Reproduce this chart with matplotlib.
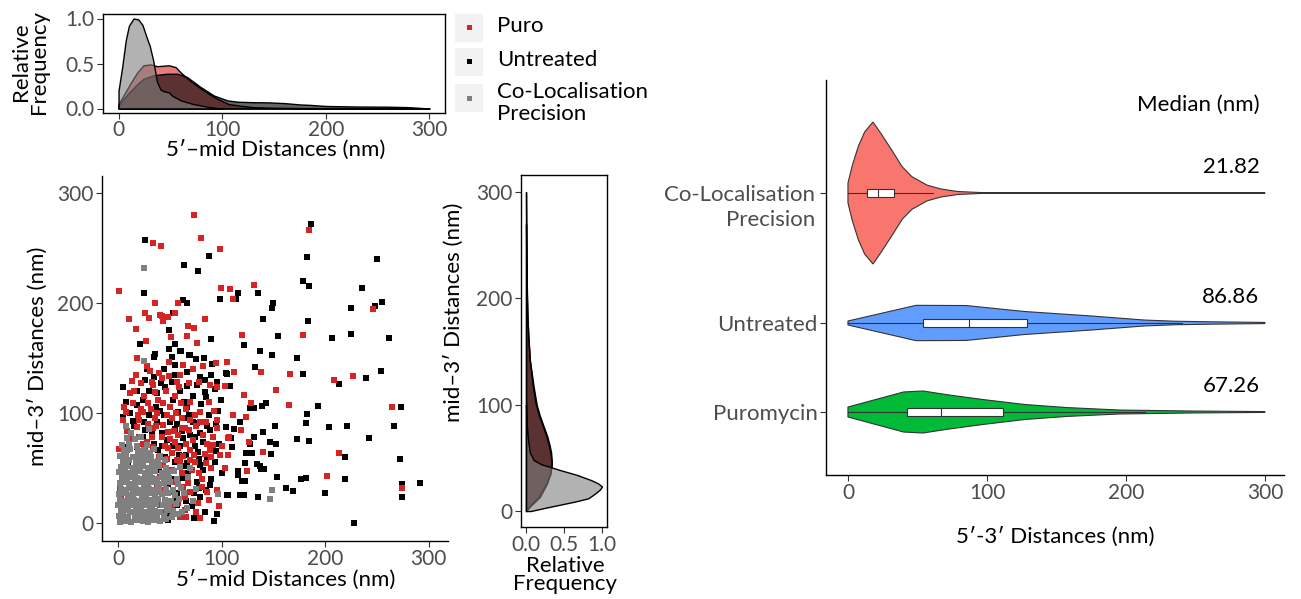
import numpy as np
import matplotlib
matplotlib.use('Agg')
import matplotlib.pyplot as plt
import matplotlib.transforms as mtransforms
from matplotlib.colors import to_rgba
from matplotlib.patches import Rectangle

plt.rcParams['font.family'] = ['Lato', 'DejaVu Sans']

# ---------------- data ----------------
# scatter: (5'-mid, mid-3') distances in nm
puro_pts = [
    (73.7, 280), (34.1, 254.8), (41.2, 252), (80.2, 258.8), (98.9, 249), (1.3, 211.2), (35.4, 200.3),
    (57.7, 200.3), (99.5, 213.6), (107.9, 213), (110.8, 204), (131, 216), (10.9, 185.2), (25.8, 191.2),
    (29.6, 186.4), (40.6, 188.8), (42.5, 188.2), (43.8, 184), (48.3, 187), (55.4, 191.2), (17.4, 176),
    (67.6, 179.4), (73.4, 177.3), (84.4, 185.7), (50.9, 168.8), (67, 170), (27, 165.7), (76.6, 164),
    (119.5, 170.6), (184.2, 266), (246.4, 194.8), (178.5, 170.9), (105, 146.6), (111.8, 137),
    (138.5, 137), (166.2, 135.7), (208.7, 129.7), (226.7, 133.4), (103.7, 124.8), (121.4, 116.4),
    (152.7, 121.2), (128.2, 108.8), (164.9, 107.3), (265, 105.7), (110.8, 97.9), (123.3, 96.1),
    (118.8, 84.5), (107.2, 78.2), (126.3, 73.6), (139.8, 64.5), (106.6, 62.1), (213.2, 63.4),
    (103.4, 50), (124.6, 47.5), (202.2, 42.7), (274, 31.8), (27.6, 142.7), (49.3, 146.7),
    (63.1, 143.6), (82.4, 142.7), (94.6, 145.6), (17.4, 134.5), (39.9, 136.6), (48.9, 133.6),
    (78.3, 127.9), (13.5, 129.4), (22, 126.9), (34.1, 125.5), (58.6, 123.3), (68.9, 127.6),
    (35.7, 119.4), (95.9, 123.3), (5.8, 105.8), (14.8, 108.8), (7.7, 101.2), (28.6, 108.8),
    (43.8, 109.4), (50.2, 105.8), (60.9, 109.4), (79.2, 101.2), (24.5, 101.2), (31.6, 103.3),
    (51.8, 95.2), (4.5, 93.6), (20.6, 93.6), (29.3, 90), (43.8, 89.1), (69.6, 93.6), (85, 92.1),
    (95.3, 93.6), (106.6, 77.3), (18.7, 86.9), (34.1, 86.1), (48.6, 83), (61.5, 86.1), (68.9, 84.5),
    (95.9, 86.1), (14.8, 76.1), (27.6, 74), (42.2, 77.9), (55.1, 74), (72.8, 75.5), (92, 71),
    (0.6, 66.9), (8.4, 66.4), (21.3, 64.8), (34.1, 68.8), (48.6, 67.9), (51.8, 63.3), (63.1, 60.9),
    (69.6, 66.4), (88.9, 66.4), (98.5, 61.8), (27.6, 57.3), (43.8, 52.7), (57.3, 57.3), (74.4, 55.8),
    (85, 54.2), (40.6, 42.1), (53.5, 37.6), (67.9, 36), (80.8, 33), (95.3, 30), (45.7, 30), (65, 24),
    (87.6, 21), (51.8, 15), (65, 11.8), (60.2, 5.8), (40.6, 16.4), (79.5, 4.6), (65.6, 5.5),
    (1.6, 30.5), (3, 25), (38, 100), (55, 115), (46, 120), (62, 95), (75, 88), (33, 78), (58, 80),
    (40, 60), (66, 72), (52, 48), (60, 55), (73, 62), (30, 50), (45, 70), (82, 80), (56, 100),
    (70, 110), (25, 115), (88, 110), (36, 95), (12, 118), (19, 98), (9, 84), (26, 66), (44, 44),
    (71, 48), (84, 63), (63, 33), (77, 18), (90, 50), (11, 72), (57, 128), (31, 138), (74, 98),
    (20, 78), (39, 112), (50, 76), (65, 86), (81, 40), (92, 78), (15, 120), (22, 104), (37, 88),
    (47, 98), (54, 84), (66, 104), (79, 92), (86, 72), (93, 102), (58, 68), (70, 57), (47, 58),
    (31, 60), (24, 72), (62, 45), (78, 45), (90, 60), (100, 70), (33, 128), (42, 132), (60, 135),
    (72, 140), (18, 150), (89, 125), (53, 28), (70, 28), (86, 28), (58, 18), (45, 10), (75, 10),
    (98, 15), (38, 35), (30, 40), (8, 58), (16, 48),
]
untreated_pts = [
    (26.4, 257.6), (88, 243), (64.1, 235), (77, 228.8), (24.8, 208.8), (62.5, 202.7), (66.4, 199.7),
    (98.2, 203.4), (113.7, 204), (115.6, 208.8), (135, 209.4), (139.8, 185.2), (52.8, 190.6),
    (49, 175.5), (21.3, 162.7), (55.4, 162.7), (89.9, 167), (122, 162), (137.5, 156.6), (49, 158.5),
    (60.6, 156.6), (36, 153.3), (35, 150.6), (52.2, 150.6), (69.6, 152.7), (83.1, 150.3),
    (75.4, 148.8), (186.2, 271.8), (182.3, 241.5), (250.2, 240.3), (179, 220.3), (184.2, 215.5),
    (236, 213.6), (149.5, 199.7), (149.1, 195.7), (225.4, 195.7), (254.7, 200.9), (248.3, 197.3),
    (183.6, 184), (154.6, 170.3), (206.8, 167.9), (225.4, 172.1), (261.8, 168.5), (149.1, 152.5),
    (173.2, 150.3), (132.4, 142.1), (105, 135.2), (179, 135.7), (213.8, 126.1), (239.9, 131.5),
    (254.1, 138.2), (108.5, 124.3), (127.2, 104.8), (131.7, 104.8), (139.1, 106.6), (143, 109.1),
    (193.2, 106.1), (182.9, 99.1), (273.4, 105.7), (118.2, 91.8), (181.6, 90.6), (151.4, 88.2),
    (203.5, 87), (220.9, 88.5), (266.3, 88.2), (104.3, 87), (112.4, 85.2), (140.1, 82.7), (108.9, 77),
    (131.7, 77.9), (127.8, 71.8), (147.2, 73.6), (152.7, 71.5), (173.2, 76.1), (184.8, 74.8),
    (242.5, 77.3), (109.9, 69.4), (147.5, 62.7), (124, 63.4), (129.2, 63.9), (219.3, 60.3),
    (272.2, 57.9), (122.7, 54.3), (134.3, 53.6), (136.9, 51.8), (138.2, 48.8), (140.8, 48.8),
    (115.6, 47.5), (115.6, 43.4), (153.3, 41.5), (177.1, 39.7), (181.6, 40.9), (219.3, 40.3),
    (119.5, 38.5), (122.7, 38.5), (291.5, 36.6), (274.7, 35.5), (162.3, 31.8), (168.8, 29.4),
    (274, 23.9), (199.7, 27.5), (106, 25.2), (118.2, 25.2), (121.4, 25.2), (135.6, 23.9), (228, 0.3),
    (59.9, 156.4), (68.9, 152.7), (55.1, 143.6), (91.1, 145), (104.3, 136.6), (34.8, 133),
    (55.4, 134.5), (67, 137.6), (79.2, 133), (5.2, 123.9), (41.2, 127.6), (45, 123.3), (67, 124.5),
    (60, 120.3), (83.9, 119.4), (93.6, 121.5), (23.8, 111.8), (18.7, 107.3), (36.7, 105.8),
    (53.5, 111.8), (67, 105.8), (85, 114.8), (96.9, 102.1), (40.6, 102.1), (57.7, 101.2), (5.2, 96.7),
    (14.2, 93), (37.4, 92.1), (64.7, 95.2), (76.7, 91.2), (26.1, 84.5), (55.1, 85.2), (79.2, 81.5),
    (88.9, 84.5), (12.2, 80), (24.5, 77.9), (47, 75.5), (63.1, 77), (74.4, 77.9), (82.4, 74),
    (97.8, 71.9), (4.5, 69.4), (18, 69.4), (38.9, 66.4), (58.3, 67.9), (77.6, 64.8), (85.6, 60.3),
    (37.4, 55.8), (67, 54.2), (79.2, 52.7), (93.6, 55.8), (47, 45.2), (61.5, 40.6), (75.9, 37.6),
    (88.9, 34.5), (105.5, 25.5), (57, 27), (73.1, 27), (79.5, 24), (95.6, 8.3), (57.3, 16.4),
    (49.6, 8.3), (92.4, 1.4), (73.7, 4.6), (48, 2.4), (30, 120), (44, 140), (72, 115), (88, 98),
    (50, 92), (62, 84), (30, 98), (45, 60), (55, 55), (68, 45), (82, 48), (90, 40), (35, 72), (20, 58),
    (10, 52), (60, 70), (72, 92), (84, 130), (96, 128), (18, 120), (8, 110), (42, 82), (53, 70),
    (66, 62), (78, 58), (86, 88), (15, 88), (28, 140), (64, 110), (99, 112), (48, 35), (71, 15),
    (84, 10), (100, 45), (55, 20), (26, 130), (38, 118), (52, 128), (76, 125), (90, 135), (12, 100),
    (25, 92), (44, 98), (69, 98), (80, 108), (95, 90), (33, 82), (57, 90), (70, 80), (89, 70),
    (42, 70), (64, 52), (74, 70), (95, 65), (52, 40), (85, 30), (66, 20), (78, 32), (40, 48), (59, 62),
]
coloc_pts = [
    (2, 1), (8, 2), (13, 1), (18, 3), (24, 2), (29, 1), (35, 3), (41, 2), (46, 4),
    (1, 6), (5, 7), (10, 5), (16, 6), (21, 7), (27, 6), (32, 5), (38, 7), (44, 6), (52, 5), (58, 8),
    (3, 11), (7, 12), (12, 10), (17, 11), (22, 12), (26, 10), (31, 12), (36, 11), (41, 10), (47, 12),
    (53, 11), (62, 10), (0, 16), (4, 15), (9, 17), (14, 16), (19, 15), (24, 17), (28, 16), (33, 15),
    (37, 17), (43, 16), (49, 15), (56, 17), (67, 14), (2, 21), (6, 20), (11, 22), (15, 21), (20, 20),
    (25, 22), (30, 21), (34, 20), (39, 22), (45, 21), (51, 20), (59, 22), (72, 20), (1, 26), (5, 27),
    (10, 25), (14, 26), (18, 27), (23, 25), (27, 26), (32, 27), (36, 25), (42, 26), (48, 27), (55, 25),
    (64, 27), (3, 31), (8, 30), (12, 32), (17, 31), (21, 30), (26, 32), (30, 31), (35, 30), (40, 32),
    (46, 31), (53, 30), (61, 32), (75, 31), (2, 36), (6, 37), (11, 35), (16, 36), (20, 37), (25, 35),
    (29, 36), (34, 37), (39, 35), (44, 36), (50, 37), (58, 35), (4, 41), (9, 40), (13, 42), (18, 41),
    (23, 40), (28, 42), (33, 41), (38, 40), (43, 42), (49, 41), (57, 40), (68, 42), (1, 46), (7, 47),
    (12, 45), (16, 46), (21, 47), (26, 45), (31, 46), (36, 47), (42, 45), (48, 46), (54, 47), (3, 51),
    (9, 52), (14, 50), (19, 51), (24, 52), (29, 50), (34, 51), (40, 52), (46, 50), (60, 51), (5, 56),
    (11, 57), (17, 55), (22, 56), (27, 57), (33, 55), (39, 56), (45, 57), (2, 61), (8, 62), (14, 60),
    (20, 61), (26, 62), (32, 60), (41, 61), (6, 66), (12, 67), (19, 65), (25, 66), (35, 67), (4, 71),
    (11, 72), (18, 70), (28, 71), (9, 77), (16, 76), (22, 78), (25, 232), (25, 147), (8, 88),
    (97, 26.5), (147, 22), (149, 29.6), (70, 50), (30, 85), (13, 82), (6, 3), (19, 9), (33, 8),
    (10, 14), (23, 19), (38, 28), (15, 33), (28, 39), (7, 43), (20, 54), (31, 64), (47, 38),
]

# marginal densities (relative frequency)
top_x_puro = [0, 5, 12, 18, 24, 31, 37, 43, 48.5, 55, 60, 69, 82, 95, 106, 118, 130, 150, 180, 220, 260, 300]
top_y_puro = [0.05, 0.15, 0.29, 0.40, 0.48, 0.49, 0.47, 0.475, 0.48, 0.46, 0.40, 0.31, 0.20, 0.11,
              0.05, 0.03, 0.015, 0.008, 0.005, 0.004, 0.003, 0.0]
top_x_unt = [0, 5, 12, 18, 24, 34, 47, 57, 66, 79, 92, 105, 115, 130, 145, 160, 175, 185, 200, 230, 260, 280, 300]
top_y_unt = [0.035, 0.11, 0.20, 0.27, 0.33, 0.37, 0.386, 0.386, 0.35, 0.24, 0.144, 0.09, 0.075, 0.07,
             0.068, 0.06, 0.045, 0.04, 0.028, 0.022, 0.02, 0.015, 0.0]
top_x_coloc = [0, 3.5, 7, 10, 14.5, 19, 23, 28, 30, 33.5, 37, 40.5, 44, 48.5, 52, 60, 72, 88, 100]
top_y_coloc = [0.20, 0.46, 0.76, 0.92, 1.00, 0.99, 0.93, 0.76, 0.70, 0.53, 0.30, 0.21, 0.19, 0.18,
               0.14, 0.09, 0.05, 0.015, 0.0]

side_y_puro = [0, 5, 13, 25, 35, 45, 55, 62, 70, 80, 90, 100, 117, 142, 165, 180, 205, 236, 270]
side_f_puro = [0.0, 0.06, 0.18, 0.27, 0.32, 0.34, 0.33, 0.31, 0.28, 0.23, 0.18, 0.14, 0.10, 0.05,
               0.03, 0.02, 0.01, 0.004, 0.0]
side_y_unt = [0, 5, 13, 25, 35, 45, 55, 62, 70, 80, 90, 100, 117, 142, 165, 180, 205, 236, 270, 300]
side_f_unt = [0.0, 0.05, 0.16, 0.26, 0.32, 0.34, 0.32, 0.30, 0.27, 0.22, 0.17, 0.13, 0.09, 0.05,
              0.03, 0.02, 0.012, 0.006, 0.003, 0.0]
side_y_coloc = [0, 3, 6, 9, 12, 16, 20, 23, 26, 29, 34, 38.5, 41, 44, 48, 55, 65, 80, 100]
side_f_coloc = [0.06, 0.25, 0.45, 0.65, 0.82, 0.90, 0.97, 1.0, 0.95, 0.86, 0.67, 0.45, 0.34, 0.20,
                0.10, 0.05, 0.03, 0.01, 0.0]

# violins of 5'-3' distances: half-width relative to the widest violin
violin_groups = ['Co-Localisation\nPrecision', 'Untreated', 'Puromycin']
coloc_v = [0, 0, 3, 7.5, 12, 18, 24, 31, 39, 46, 57, 67, 79, 95, 110, 300]
coloc_w = [0, 0.14, 0.38, 0.66, 0.86, 1.0, 0.83, 0.62, 0.37, 0.23, 0.11, 0.056, 0.021, 0.007, 0.003, 0.003]
unt_v = [0, 0, 49, 85, 127, 175, 213, 235, 260, 300]
unt_w = [0, 0.028, 0.249, 0.246, 0.162, 0.099, 0.042, 0.025, 0.017, 0.008]
puro_v = [0, 0, 40, 54, 73, 97, 127, 157, 195, 246, 300]
puro_w = [0, 0.07, 0.282, 0.296, 0.239, 0.176, 0.106, 0.063, 0.028, 0.014, 0.006]
box_q1 = [13.4, 54.3, 42.7]
box_med = [21.82, 86.86, 67.26]
box_q3 = [32.8, 128.7, 111.3]
whisk_lo = [0, 0, 0]
whisk_hi = [61, 240, 214]

# ---------------- style ----------------
RED = '#D42424'
BLACK = '#000000'
GREY = '#808080'
TICK = '#4D4D4D'
violin_cols = ['#F8766D', '#619CFF', '#00BA38']
FS = 16
TFS = 15

W, H = 1301, 599
fig = plt.figure(figsize=(W / 100, H / 100), dpi=100)
PX = mtransforms.Affine2D().scale(1 / W, -1 / H).translate(0, 1) + fig.transFigure


def axes_px(left, top, right, bottom):
    return fig.add_axes([left / W, 1 - bottom / H, (right - left) / W, (bottom - top) / H])


def style(ax, box=False):
    for s in ['top', 'right']:
        ax.spines[s].set_visible(box)
    for s in ax.spines.values():
        s.set_linewidth(1.0)
        s.set_color('black')
    ax.tick_params(length=4, width=0.8, color='#333333', labelcolor=TICK, labelsize=TFS, pad=2)


# ---------------- top marginal density ----------------
ax_top = axes_px(103, 14, 445, 113)
for xs, ys, c in [(top_x_puro, top_y_puro, RED), (top_x_unt, top_y_unt, BLACK), (top_x_coloc, top_y_coloc, GREY)]:
    ax_top.fill_between(xs, ys, 0, facecolor=to_rgba(c, 0.6), edgecolor='black', lw=1.0)
ax_top.set_xlim(-15, 315)
ax_top.set_ylim(-0.05, 1.05)
ax_top.set_xticks([0, 100, 200, 300])
ax_top.set_yticks([0, 0.5, 1.0])
ax_top.set_yticklabels(['0.0', '0.5', '1.0'])
style(ax_top, box=True)
ax_top.tick_params(axis='x', pad=1)
ax_top.set_xlabel("5\u2032\u2013mid Distances (nm)", fontsize=FS, va='center')
ax_top.xaxis.set_label_coords(276, 150, transform=PX)
ax_top.set_ylabel("Relative\nFrequency", fontsize=FS, va='center', linespacing=0.85)
ax_top.yaxis.set_label_coords(30, 62, transform=PX)

# ---------------- scatter ----------------
ax_sc = axes_px(102, 176, 448, 541)
for pts, c in [(untreated_pts, BLACK), (puro_pts, RED), (coloc_pts, GREY)]:
    arr = np.array(pts)
    ax_sc.scatter(arr[:, 0], arr[:, 1], s=14, marker='s', color=c, linewidths=0)
ax_sc.set_xlim(-15.5, 318.8)
ax_sc.set_ylim(-16.4, 315.5)
ax_sc.set_xticks([0, 100, 200, 300])
ax_sc.set_yticks([0, 100, 200, 300])
style(ax_sc)
ax_sc.set_xlabel("5\u2032\u2013mid Distances (nm)", fontsize=FS, va='center')
ax_sc.xaxis.set_label_coords(286, 580, transform=PX)
ax_sc.set_ylabel("mid\u20133\u2032 Distances (nm)", fontsize=FS, va='center')
ax_sc.yaxis.set_label_coords(38, 356, transform=PX)

# ---------------- side marginal density ----------------
ax_sd = axes_px(521, 175, 607, 527)
for ys, fs, c in [(side_y_puro, side_f_puro, RED), (side_y_unt, side_f_unt, BLACK), (side_y_coloc, side_f_coloc, GREY)]:
    ax_sd.fill_betweenx(ys, fs, 0, facecolor=to_rgba(c, 0.6), edgecolor='black', lw=1.0)
ax_sd.set_xlim(-0.066, 1.066)
ax_sd.set_ylim(-15, 316)
ax_sd.set_xticks([0, 0.5, 1.0])
ax_sd.set_xticklabels(['0.0', '0.5', '1.0'])
ax_sd.set_yticks([0, 100, 200, 300])
style(ax_sd, box=True)
ax_sd.set_xlabel("Relative\nFrequency", fontsize=FS, va='center', linespacing=0.9)
ax_sd.xaxis.set_label_coords(565, 575, transform=PX)
ax_sd.set_ylabel("mid\u20133\u2032 Distances (nm)", fontsize=FS, va='center')
ax_sd.yaxis.set_label_coords(454, 312, transform=PX)

# ---------------- legend ----------------
leg = fig.add_axes([0, 0, 1, 1], zorder=-1)
leg.set_xlim(0, W)
leg.set_ylim(H, 0)
leg.axis('off')
for yc, c, lab in [(27.5, RED, 'Puro'), (61.5, BLACK, 'Untreated'), (98, GREY, 'Co-Localisation\nPrecision')]:
    leg.add_patch(Rectangle((455, yc - 14), 28, 28, facecolor='#F2F2F2', edgecolor='none'))
    leg.add_patch(Rectangle((466.5, yc - 2.5), 5, 5, facecolor=c, edgecolor='none'))
    leg.text(497, yc + (5 if '\n' in lab else -1), lab, fontsize=FS, ha='left', va='center', linespacing=1.15)

# ---------------- violins ----------------
ax_v = axes_px(826, 80, 1284, 475)
pos = [193, 323, 412]
peak = 71
for i, (v, w) in enumerate([(coloc_v, coloc_w), (unt_v, unt_w), (puro_v, puro_w)]):
    v = np.array(v)
    hw = np.array(w) * peak
    xs = np.r_[v, v[::-1]]
    ys = np.r_[pos[i] - hw, (pos[i] + hw)[::-1]]
    ax_v.fill(xs, ys, facecolor=violin_cols[i], edgecolor='#333333', lw=0.8)
    ax_v.plot([whisk_lo[i], box_q1[i]], [pos[i]] * 2, color='#333333', lw=0.8)
    ax_v.plot([box_q3[i], whisk_hi[i]], [pos[i]] * 2, color='#333333', lw=0.8)
    ax_v.add_patch(Rectangle((box_q1[i], pos[i] - 4), box_q3[i] - box_q1[i], 8,
                             facecolor='white', edgecolor='#333333', lw=0.8, zorder=3))
    ax_v.plot([box_med[i]] * 2, [pos[i] - 4, pos[i] + 4], color='#333333', lw=0.8, zorder=4)
    ax_v.text(296, pos[i] - 26, '%.2f' % box_med[i], fontsize=FS, ha='right', va='center')
ax_v.text(296, 105, 'Median (nm)', fontsize=FS, ha='right', va='center')
ax_v.set_xlim(-15.8, 313.7)
ax_v.set_ylim(475, 80)
ax_v.set_xticks([0, 100, 200, 300])
ax_v.set_yticks(pos)
ax_v.set_yticklabels(['', violin_groups[1], violin_groups[2]])
style(ax_v)
ax_v.tick_params(axis='y', labelsize=FS)
ax_v.text(815, 207.5, violin_groups[0], transform=PX, fontsize=FS, color=TICK,
          ha='right', va='center', multialignment='right', linespacing=1.35)
ax_v.set_xlabel("5\u2032-3\u2032 Distances (nm)", fontsize=FS, va='center')
ax_v.xaxis.set_label_coords(1055, 537, transform=PX)

fig.savefig('out.png', dpi=100)
